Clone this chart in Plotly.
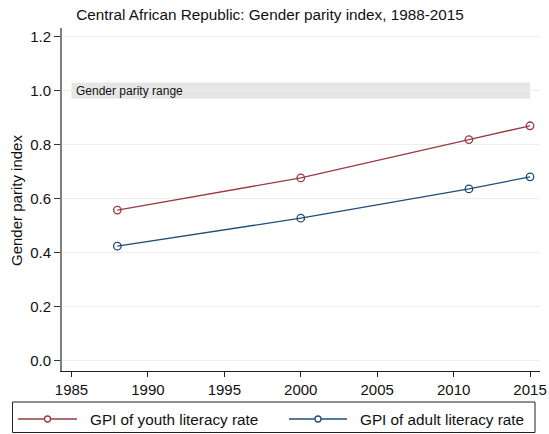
import plotly.graph_objects as go

years = [1988, 2000, 2011, 2015]
youth_gpi = [0.558, 0.677, 0.819, 0.870]
adult_gpi = [0.424, 0.528, 0.636, 0.681]
band_low, band_high = 0.97, 1.03
band_x = [1985, 2015]
x_ticks = [1985, 1990, 1995, 2000, 2005, 2010, 2015]
y_ticks = [0.0, 0.2, 0.4, 0.6, 0.8, 1.0, 1.2]
series_names = ["GPI of youth literacy rate", "GPI of adult literacy rate"]

FONT = "Liberation Sans, Arial, sans-serif"
red = "#9a3a42"
blue = "#1f4e79"
colors = [red, blue]

W, H = 549, 434
L, R, T, B = 62, 9, 28, 63
PW, PH = W - L - R, H - T - B


def px(x):
    return (x - L) / PW


def py(y):
    return (H - B - y) / PH


fig = go.Figure()
fig.add_shape(type="rect", xref="x", yref="y", x0=band_x[0], x1=band_x[1],
              y0=band_low, y1=band_high, fillcolor="#e6e6e6", line_width=0, layer="below")
fig.add_annotation(x=band_x[0], y=(band_low + band_high) / 2, xref="x", yref="y",
                   text="Gender parity range", showarrow=False, xanchor="left",
                   xshift=3, font=dict(size=12, color="#111", family=FONT))

for vals, name, col in zip([youth_gpi, adult_gpi], series_names, colors):
    fig.add_trace(go.Scatter(x=years, y=vals, mode="lines+markers", name=name,
                             line=dict(color=col, width=1.3),
                             marker=dict(symbol="circle-open", size=7.5, color=col,
                                         line=dict(width=1.3)),
                             showlegend=False))

# custom legend (Stata style)
fig.add_shape(type="rect", xref="paper", yref="paper", x0=px(12.5), x1=px(535),
              y0=py(432.5), y1=py(402), line=dict(color="#222", width=1), fillcolor="white")
legend_slots = [(18, 77, 88), (289, 347, 358)]
for (lx0, lx1, tx), name, col in zip(legend_slots, series_names, colors):
    yc = py(419)
    fig.add_shape(type="line", xref="paper", yref="paper", x0=px(lx0), x1=px(lx1),
                  y0=yc, y1=yc, line=dict(color=col, width=1.3))
    mx = px((lx0 + lx1) / 2)
    fig.add_shape(type="circle", xref="paper", yref="paper", xsizemode="pixel",
                  ysizemode="pixel", xanchor=mx, yanchor=yc, x0=-3, x1=3, y0=-3, y1=3,
                  fillcolor="white", line=dict(color=col, width=1.3))
    fig.add_annotation(x=px(tx), y=yc, xref="paper", yref="paper", text=name,
                       showarrow=False, xanchor="left", yanchor="middle",
                       font=dict(size=15.3, color="#111", family=FONT))

fig.add_annotation(x=px(17), y=py(201), xref="paper", yref="paper",
                   text="Gender parity index", textangle=-90, showarrow=False,
                   xanchor="center", yanchor="middle",
                   font=dict(size=15, color="#111", family=FONT))

fig.update_layout(
    width=W, height=H,
    margin=dict(l=L, r=R, t=T, b=B, autoexpand=False),
    paper_bgcolor="white", plot_bgcolor="white",
    font=dict(family=FONT, size=15, color="#111"),
    title=dict(text="Central African Republic: Gender parity index, 1988-2015",
               x=270 / W, xanchor="center", y=1 - 15 / H, yanchor="middle",
               font=dict(size=15.3, color="#111")),
    showlegend=False,
)
fig.update_xaxes(range=[1984.38, 2015.65], tickvals=x_ticks, ticks="outside", ticklen=5,
                 tickcolor="#222", showline=True, linecolor="#222", linewidth=1.3,
                 showgrid=False, zeroline=False, tickfont=dict(size=15), automargin=False)
fig.update_yaxes(range=[-0.038, 1.232], tickvals=y_ticks, tickformat=".1f", ticks="outside",
                 ticklen=6, tickcolor="#333", showline=True, linecolor="#808080", linewidth=2,
                 showgrid=True, gridcolor="#eeeeee", gridwidth=1, zeroline=False,
                 tickfont=dict(size=15), automargin=False)

fig.write_html("out.html", config={"displayModeBar": False},
               post_script="document.body.style.margin='0';document.body.style.overflow='hidden';")
